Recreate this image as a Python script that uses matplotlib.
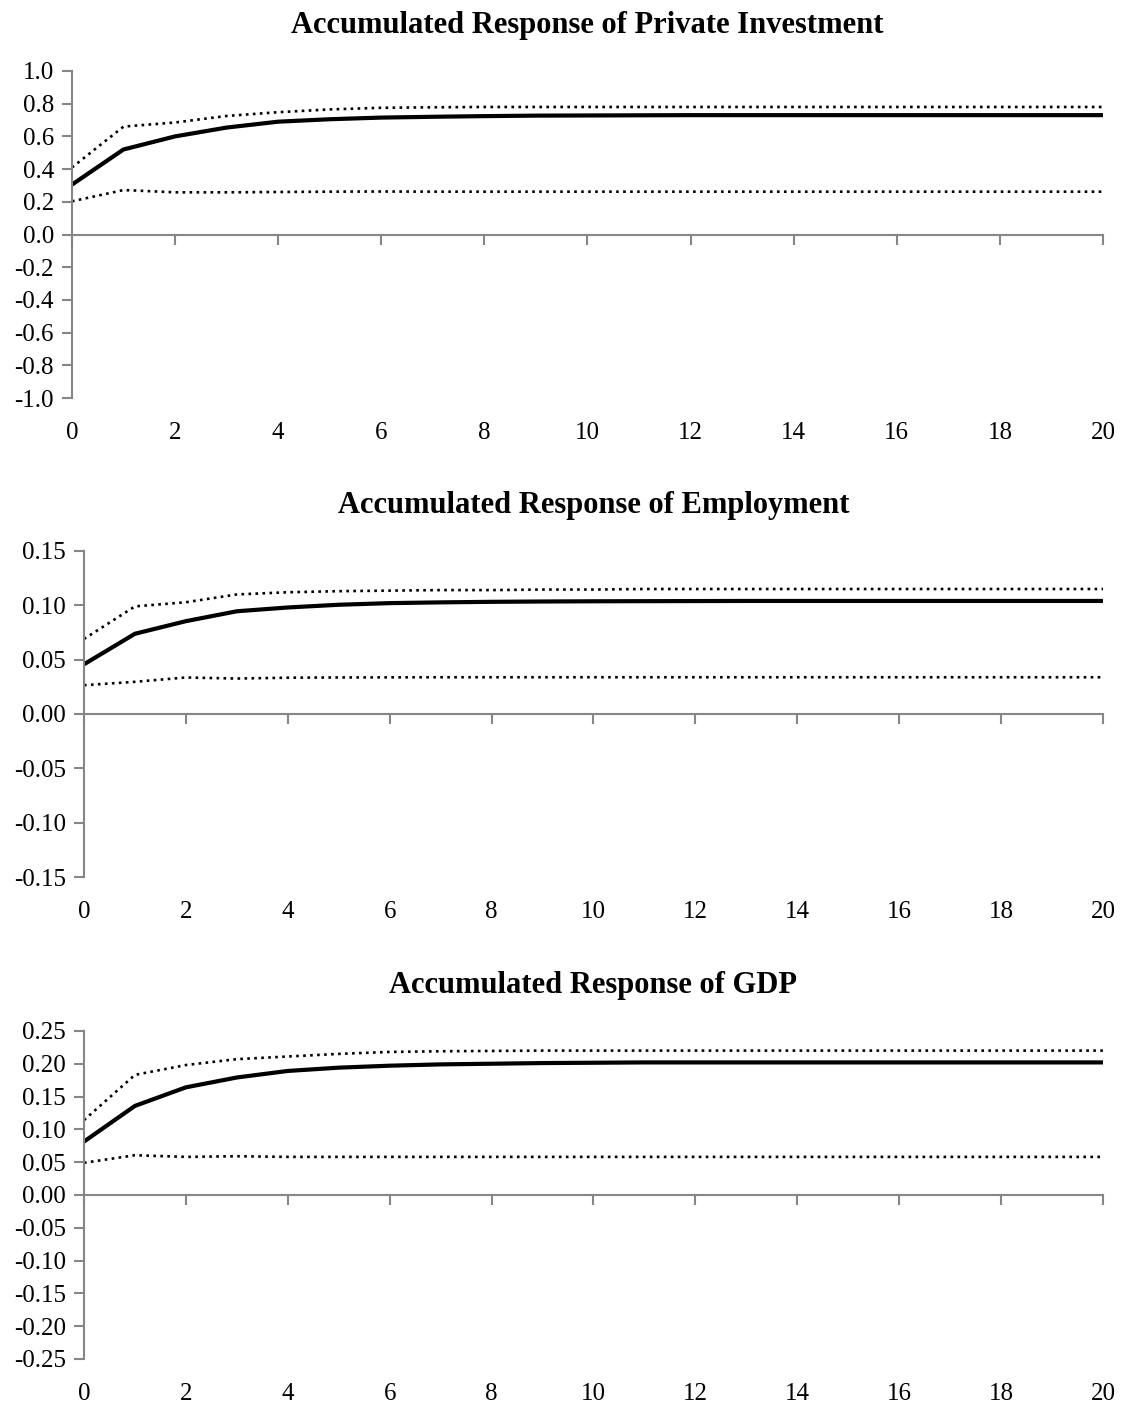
import matplotlib
matplotlib.use("Agg")
import matplotlib.pyplot as plt
from matplotlib.ticker import FormatStrFormatter, MultipleLocator

plt.rcParams['font.family'] = ['Liberation Serif', 'DejaVu Serif']
plt.rcParams['axes.unicode_minus'] = False

periods = list(range(21))
period_ticks = list(range(0, 21, 2))

# accumulated responses: point estimate and upper/lower bands
invest_mid = [0.305, 0.52, 0.60, 0.654, 0.69, 0.705, 0.715, 0.72, 0.724, 0.727, 0.728,
              0.729, 0.73, 0.73, 0.73, 0.73, 0.73, 0.73, 0.73, 0.73, 0.73]
invest_hi = [0.41, 0.66, 0.685, 0.725, 0.748, 0.765, 0.775, 0.778, 0.78, 0.78, 0.78,
             0.78, 0.78, 0.78, 0.78, 0.78, 0.78, 0.78, 0.78, 0.78, 0.78]
invest_lo = [0.203, 0.272, 0.258, 0.258, 0.26, 0.262, 0.263, 0.262, 0.262, 0.262, 0.262,
             0.262, 0.262, 0.262, 0.262, 0.262, 0.262, 0.262, 0.262, 0.262, 0.262]

empl_mid = [0.0457, 0.0738, 0.0854, 0.0945, 0.098, 0.1005, 0.102, 0.1027, 0.1032, 0.1035, 0.1037,
            0.1038, 0.1039, 0.104, 0.104, 0.104, 0.104, 0.104, 0.104, 0.104, 0.104]
empl_hi = [0.069, 0.099, 0.1028, 0.110, 0.112, 0.113, 0.1135, 0.114, 0.114, 0.1145, 0.1145,
           0.115, 0.115, 0.115, 0.115, 0.115, 0.115, 0.115, 0.115, 0.115, 0.115]
empl_lo = [0.0265, 0.0296, 0.0336, 0.0326, 0.0334, 0.0336, 0.0337, 0.0338, 0.0338, 0.0338, 0.0338,
           0.0338, 0.0338, 0.0338, 0.0338, 0.0338, 0.0338, 0.0338, 0.0338, 0.0338, 0.0338]

gdp_mid = [0.0813, 0.1357, 0.164, 0.179, 0.189, 0.194, 0.197, 0.199, 0.2, 0.201, 0.2015,
           0.202, 0.202, 0.202, 0.202, 0.202, 0.202, 0.202, 0.202, 0.202, 0.202]
gdp_hi = [0.114, 0.183, 0.198, 0.207, 0.211, 0.215, 0.218, 0.219, 0.2195, 0.22, 0.22,
          0.22, 0.22, 0.22, 0.22, 0.22, 0.22, 0.22, 0.22, 0.22, 0.22]
gdp_lo = [0.049, 0.0605, 0.058, 0.059, 0.058, 0.058, 0.058, 0.058, 0.058, 0.058, 0.058,
          0.058, 0.058, 0.058, 0.058, 0.058, 0.058, 0.058, 0.058, 0.058, 0.058]

panels = [
    ("Accumulated Response of Private Investment", invest_mid, invest_hi, invest_lo,
     1.0, 0.2, "%.1f", [0.064, 0.7163, 0.9173, 0.2331]),
    ("Accumulated Response of Employment", empl_mid, empl_hi, empl_lo,
     0.15, 0.05, "%.2f", [0.0747, 0.3749, 0.9066, 0.2324]),
    ("Accumulated Response of GDP", gdp_mid, gdp_hi, gdp_lo,
     0.25, 0.05, "%.2f", [0.0747, 0.0314, 0.9066, 0.2338]),
]

grey = '#868686'
fig = plt.figure(figsize=(11.24, 14.03), dpi=100)

for title, mid, hi, lo, lim, step, fmt, rect in panels:
    ax = fig.add_axes(rect)
    ax.plot(periods, mid, color='black', lw=3.0, solid_capstyle='butt',
            solid_joinstyle='round')
    ax.plot(periods, hi, color='black', lw=1.9, ls=':')
    ax.plot(periods, lo, color='black', lw=1.9, ls=':')

    ax.set_xlim(0, 20)
    ax.set_ylim(-lim, lim)
    ax.yaxis.set_major_locator(MultipleLocator(step))
    ax.yaxis.set_major_formatter(FormatStrFormatter(fmt))
    ax.set_xticks(period_ticks)

    for side in ('top', 'right'):
        ax.spines[side].set_visible(False)
    ax.spines['left'].set_color(grey)
    ax.spines['left'].set_linewidth(1.5)
    ax.spines['bottom'].set_position(('data', 0))
    ax.spines['bottom'].set_color(grey)
    ax.spines['bottom'].set_linewidth(1.5)

    ax.tick_params(axis='y', direction='out', length=7, width=1.5, color=grey,
                   labelsize=18, pad=6)
    ax.tick_params(axis='x', direction='out', length=7, width=1.5, color=grey,
                   labelbottom=False)

    # category labels sit at the bottom of the plot area
    sec = ax.secondary_xaxis('bottom')
    sec.set_xticks(period_ticks)
    sec.spines['bottom'].set_visible(False)
    sec.tick_params(axis='x', length=0, labelsize=18, pad=17)

    ax.set_title(title, fontsize=22, fontweight='bold', pad=27)

fig.savefig('out.png', dpi=100, facecolor='white')
